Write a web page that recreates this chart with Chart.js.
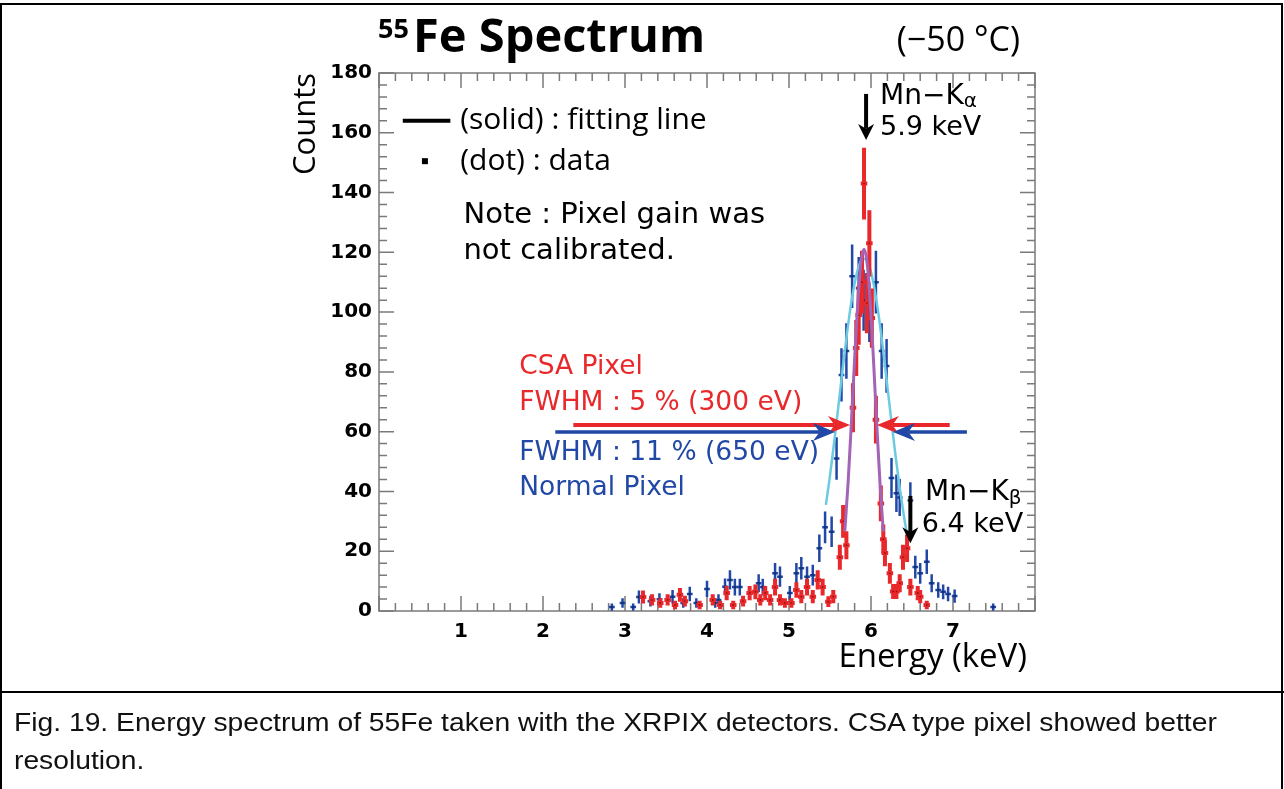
<!DOCTYPE html>
<html>
<head>
<meta charset="utf-8">
<script src="https://cdn.jsdelivr.net/npm/chart.js@4.4.0/dist/chart.umd.min.js"></script>
<style>
html, body { margin: 0; padding: 0; background: #fff; }
body { width: 1284px; height: 789px; overflow: hidden; position: relative; font-family: "Liberation Sans", Arial, sans-serif; }
#wrap { position: absolute; left: 0; top: 0; width: 1284px; height: 690px; }
#frame { position: absolute; left: 0; top: 3px; width: 1279px; height: 830px; border: 2px solid #000; }
#sep { position: absolute; left: 0; top: 691px; width: 1284px; height: 2px; background: #000; }
#caption { position: absolute; left: 14px; top: 703px; font-size: 25px; line-height: 38px; color: #111; white-space: nowrap; transform: scaleX(1.13); transform-origin: left top; }
</style>
</head>
<body>
<div id="wrap"><canvas id="chart"></canvas></div>
<div id="frame"></div>
<div id="sep"></div>
<div id="caption">Fig. 19. Energy spectrum of 55Fe taken with the XRPIX detectors. CSA type pixel showed better<br>resolution.</div>
<script>
// normal pixel (blue) data
const blueE = [2.84, 2.97, 3.10, 3.17, 3.31, 3.42, 3.58, 3.71, 3.79, 3.87, 4.00, 4.10, 4.14, 4.22, 4.28, 4.34, 4.40, 4.63, 4.68,
  4.83, 4.89, 5.01, 5.09, 5.15, 5.22, 5.29, 5.37, 5.44, 5.52, 5.58, 5.64, 5.70, 5.77, 5.85, 5.91, 5.98, 6.06, 6.13, 6.19,
  6.25, 6.31, 6.35, 6.48, 6.54, 6.60, 6.68, 6.74, 6.82, 6.88, 6.94, 7.02, 7.49];
const blueC = [1.3, 2.7, 1.3, 4.7, 3.3, 3.9, 4.8, 2.7, 5.7, 2.7, 7.4, 2.7, 3.7, 8.1, 10.4, 8, 8, 9.3, 8,
  12.6, 11.5, 6, 12.6, 14.3, 11.5, 12, 21, 28, 26.5, 51, 79, 87, 112, 108, 104, 100, 110, 87, 82,
  44.5, 39.4, 38, 37, 14.7, 12.6, 16.5, 9.3, 7, 6.4, 5.7, 5, 1.3];
const blueErr = [1.2, 1.6, 1.2, 2.2, 1.8, 2, 2.2, 1.6, 2.4, 1.6, 2.7, 1.6, 1.9, 2.8, 3.2, 2.8, 2.8, 3, 2.8,
  3.5, 3.4, 2.4, 3.5, 3.8, 3.4, 3.5, 4.6, 5.3, 5.1, 7.1, 8.9, 9.3, 10.6, 10.4, 10.2, 10, 10.5, 9.3, 9,
  6.7, 6.3, 6.2, 6.1, 3.8, 3.5, 4.1, 3, 2.6, 2.5, 2.4, 2.2, 1.2];

// CSA pixel (red) data
const redE = [3.22, 3.33, 3.43, 3.52, 3.61, 3.67, 3.73, 3.91, 4.07, 4.16, 4.24, 4.32, 4.44, 4.52, 4.59, 4.65, 4.71, 4.77,
  4.83, 4.89, 4.95, 5.03, 5.09, 5.15, 5.22, 5.29, 5.35, 5.41, 5.48, 5.54, 5.62, 5.66, 5.70, 5.78, 5.82, 5.85, 5.89,
  5.915, 5.95, 5.98, 6.01, 6.06, 6.12, 6.15, 6.17, 6.23, 6.27, 6.31, 6.35, 6.39, 6.44, 6.48, 6.57, 6.60, 6.68];
const redC = [4.7, 3.7, 2.7, 3.7, 2, 5.4, 3.3, 2, 3.7, 2, 6, 2, 3.3, 6, 6.4, 3.7, 6, 3.7,
  8, 3.7, 2.7, 2.7, 7, 4.8, 8, 4.8, 10.4, 8, 3.1, 4.8, 18, 30, 22, 68, 88, 99, 110,
  143, 103, 123, 98, 64, 36, 24, 19.4, 12.6, 6.5, 6.5, 9.3, 18, 21, 8, 6, 4.8, 2];
const redErr = [2.2, 1.9, 1.6, 1.9, 1.4, 2.3, 1.8, 1.4, 1.9, 1.4, 2.4, 1.4, 1.8, 2.4, 2.5, 1.9, 2.4, 1.9,
  2.8, 1.9, 1.6, 1.6, 2.6, 2.2, 2.8, 2.2, 3.2, 2.8, 1.8, 2.2, 4.2, 5.5, 4.7, 8.2, 9.4, 9.9, 10.5,
  12, 10.1, 11.1, 9.9, 8, 6, 4.9, 4.4, 3.5, 2.5, 2.5, 3, 4.2, 4.6, 2.8, 2.4, 2.2, 1.4];

// fitting lines
const cyanE = [5.45, 5.50, 5.55, 5.60, 5.65, 5.70, 5.75, 5.80, 5.85, 5.90, 5.95, 6.00, 6.05, 6.10, 6.15, 6.20, 6.25, 6.30, 6.35, 6.40, 6.44];
const cyanC = [35.5, 45.3, 56.3, 68.0, 79.9, 91.3, 101.5, 109.6, 115.3, 117.9, 117.2, 113.4, 106.6, 97.6, 86.8, 75.1, 63.2, 51.8, 41.3, 32.0, 25.5];
const purpleE = [5.68, 5.72, 5.76, 5.80, 5.84, 5.88, 5.915, 5.95, 5.99, 6.03, 6.07, 6.11, 6.15];
const purpleC = [26.6, 42.6, 62.6, 84.2, 103.7, 117.0, 121.0, 117.0, 103.7, 84.2, 62.6, 42.6, 26.6];

// axes
const xMin = 0, xMax = 8, xStep = 1, xMinor = 0.2;
const yMin = 0, yMax = 180, yStep = 20, yMinor = 4;
const xTickLabels = [1, 2, 3, 4, 5, 6, 7];

const RED = '#e8282a';
const BLUE = '#2148a6';

function pts(xs, ys) {
    return xs.map((x, i) => ({ x: x, y: ys[i] }));
}

// 误差棒（画在点的下面）
const errorBars = {
    id: 'errorBars',
    beforeDatasetDraw(chart, args) {
        const ds = chart.data.datasets[args.index];
        if (!ds.yErr) return;
        const xs = chart.scales.x, ys = chart.scales.y, ctx = chart.ctx;
        ctx.save();
        ctx.strokeStyle = ds.barColor;
        ctx.lineWidth = ds.barWidth;
        ds.data.forEach((p, i) => {
            const px = xs.getPixelForValue(p.x);
            const py = ys.getPixelForValue(p.y);
            ctx.beginPath();
            ctx.moveTo(px, ys.getPixelForValue(Math.max(0, p.y - ds.yErr[i])));
            ctx.lineTo(px, ys.getPixelForValue(p.y + ds.yErr[i]));
            ctx.moveTo(xs.getPixelForValue(p.x - ds.xErr), py);
            ctx.lineTo(xs.getPixelForValue(p.x + ds.xErr), py);
            ctx.stroke();
        });
        ctx.restore();
    }
};

// ROOT style frame with inward ticks
const frame = {
    id: 'frame',
    beforeDatasetsDraw(chart) {
        const { ctx, chartArea: a, scales: { x, y } } = chart;
        ctx.save();
        ctx.strokeStyle = '#7a7a7a';
        ctx.lineWidth = 1.5;
        ctx.strokeRect(a.left, a.top, a.right - a.left, a.bottom - a.top);
        ctx.beginPath();
        const nx = Math.round((xMax - xMin) / xMinor);
        for (let i = 0; i <= nx; i++) {
            const px = x.getPixelForValue(xMin + i * xMinor);
            const len = i % 5 === 0 ? 15 : 8;
            ctx.moveTo(px, a.bottom); ctx.lineTo(px, a.bottom - len);
            ctx.moveTo(px, a.top); ctx.lineTo(px, a.top + len);
        }
        const ny = Math.round((yMax - yMin) / yMinor);
        for (let i = 0; i <= ny; i++) {
            const py = y.getPixelForValue(yMin + i * yMinor);
            const len = i % 5 === 0 ? 15 : 8;
            ctx.moveTo(a.left, py); ctx.lineTo(a.left + len, py);
            ctx.moveTo(a.right, py); ctx.lineTo(a.right - len, py);
        }
        ctx.stroke();
        ctx.restore();
    }
};

function arrow(ctx, x1, y1, x2, y2, color, lw, head, half) {
    const ang = Math.atan2(y2 - y1, x2 - x1);
    const c = Math.cos(ang), s = Math.sin(ang);
    const bx = x2 - head * c, by = y2 - head * s;
    ctx.strokeStyle = color;
    ctx.lineWidth = lw;
    ctx.beginPath();
    ctx.moveTo(x1, y1);
    ctx.lineTo(bx + head * 0.3 * c, by + head * 0.3 * s);
    ctx.stroke();
    ctx.fillStyle = color;
    ctx.beginPath();
    ctx.moveTo(x2, y2);
    ctx.lineTo(bx + half * s, by - half * c);
    ctx.lineTo(bx + head * 0.3 * c, by + head * 0.3 * s);
    ctx.lineTo(bx - half * s, by + half * c);
    ctx.closePath();
    ctx.fill();
}

function text(ctx, s, x, y, font, color, align) {
    ctx.font = font;
    ctx.fillStyle = color;
    ctx.textAlign = align || 'left';
    ctx.textBaseline = 'middle';
    ctx.fillText(s, x, y);
}

// 注释文字、箭头、标题
const notes = {
    id: 'notes',
    afterDraw(chart) {
        const { ctx, chartArea: a, scales: { x, y } } = chart;
        const X = v => x.getPixelForValue(v);
        const Y = v => y.getPixelForValue(v);
        const ann = '"DejaVu Sans", sans-serif';
        const myr = '"Open Sans", sans-serif';
        ctx.save();

        // title
        text(ctx, '55', a.left - 1, 30, 'bold 27px ' + myr, '#000');
        text(ctx, 'Fe Spectrum', a.left + 34, 39, 'bold 47px ' + myr, '#000');
        text(ctx, '(\u221250 \u00b0C)', a.right - 15, 41, '34px ' + myr, '#000', 'right');

        // axis titles
        text(ctx, 'Energy (keV)', a.right - 8, a.bottom + 47, '33px ' + myr, '#000', 'right');
        ctx.save();
        ctx.translate(a.left - 73, a.top);
        ctx.rotate(-Math.PI / 2);
        text(ctx, 'Counts', 0, 0, '31px ' + myr, '#000', 'right');
        ctx.restore();

        // legend
        ctx.strokeStyle = '#000';
        ctx.lineWidth = 4;
        ctx.beginPath();
        ctx.moveTo(X(0.29), Y(164)); ctx.lineTo(X(0.87), Y(164));
        ctx.stroke();
        ctx.fillStyle = '#000';
        ctx.fillRect(X(0.56) - 3, Y(150.5) - 3, 6, 6);
        text(ctx, '(solid) : fitting line', X(0.99), Y(164), '30px ' + myr, '#000');
        text(ctx, '(dot) : data', X(0.99), Y(150.5), '30px ' + myr, '#000');
        text(ctx, 'Note : Pixel gain was', X(1.03), Y(132.2), '29px ' + ann, '#000');
        text(ctx, 'not calibrated.', X(1.03), Y(120.4), '29px ' + ann, '#000');

        // CSA / normal pixel labels
        text(ctx, 'CSA Pixel', X(1.71), Y(81.6), '26.5px ' + ann, RED);
        text(ctx, 'FWHM : 5 % (300 eV)', X(1.71), Y(69.6), '26.5px ' + ann, RED);
        text(ctx, 'FWHM : 11 % (650 eV)', X(1.71), Y(52.9), '26.5px ' + ann, BLUE);
        text(ctx, 'Normal Pixel', X(1.71), Y(41.2), '26.5px ' + ann, BLUE);

        // FWHM arrows
        arrow(ctx, X(2.37), Y(62.2), X(5.744), Y(62.2), RED, 4, 22, 9);
        arrow(ctx, X(6.96), Y(62.2), X(6.073), Y(62.2), RED, 4, 22, 9);
        arrow(ctx, X(2.15), Y(59.9), X(5.561), Y(59.9), BLUE, 3.5, 22, 9);
        arrow(ctx, X(7.17), Y(59.9), X(6.268), Y(59.9), BLUE, 3.5, 22, 9);

        // line markers
        arrow(ctx, X(5.94), Y(173), X(5.94), Y(157.6), '#000', 4, 16, 8);
        arrow(ctx, X(6.48), Y(38.5), X(6.48), Y(22.7), '#000', 4, 16, 8);
        text(ctx, 'Mn\u2212K', X(6.11), Y(172), '28px ' + ann, '#000');
        ctx.font = '28px ' + ann;
        let w = ctx.measureText('Mn\u2212K').width;
        text(ctx, '\u03b1', X(6.11) + w, Y(170.5), '20px ' + ann, '#000');
        text(ctx, '5.9 keV', X(6.11), Y(161.6), '27px ' + ann, '#000');
        text(ctx, 'Mn\u2212K', X(6.66), Y(39.5), '28px ' + ann, '#000');
        ctx.font = '28px ' + ann;
        w = ctx.measureText('Mn\u2212K').width;
        text(ctx, '\u03b2', X(6.66) + w, Y(37.5), '20px ' + ann, '#000');
        text(ctx, '6.4 keV', X(6.62), Y(28.8), '27px ' + ann, '#000');

        ctx.restore();
    }
};

new Chart(document.getElementById('chart'), {
    type: 'scatter',
    data: {
        datasets: [
            {
                label: 'Normal Pixel',
                data: pts(blueE, blueC),
                yErr: blueErr, xErr: 0.035, barColor: BLUE, barWidth: 2.5,
                pointStyle: 'rect', pointRadius: 1.6, backgroundColor: '#12306e', borderWidth: 0,
                order: 4
            },
            {
                label: 'Normal Pixel fit',
                data: pts(cyanE, cyanC),
                showLine: true, pointRadius: 0, borderColor: '#6ccbe0', borderWidth: 2.5,
                tension: 0.4, cubicInterpolationMode: 'monotone',
                order: 3
            },
            {
                label: 'CSA Pixel',
                data: pts(redE, redC),
                yErr: redErr, xErr: 0.04, barColor: RED, barWidth: 4,
                pointStyle: 'rect', pointRadius: 1, backgroundColor: '#7a1010', borderWidth: 0,
                order: 2
            },
            {
                label: 'CSA Pixel fit',
                data: pts(purpleE, purpleC),
                showLine: true, pointRadius: 0, borderColor: '#a364b6', borderWidth: 3,
                tension: 0.4, cubicInterpolationMode: 'monotone',
                order: 1
            }
        ]
    },
    options: {
        responsive: true,
        maintainAspectRatio: false,
        animation: false,
        layout: { padding: { left: 279, right: 249, top: 73, bottom: 39 } },
        plugins: { legend: { display: false }, tooltip: { enabled: false } },
        scales: {
            x: {
                type: 'linear', min: xMin, max: xMax,
                grid: { display: false, drawTicks: false },
                border: { display: false },
                ticks: {
                    stepSize: xStep, maxRotation: 0, autoSkip: false, padding: 9,
                    color: '#000', font: { family: 'DejaVu Sans', weight: 'bold', size: 20 },
                    callback: v => xTickLabels.includes(v) ? v : ''
                },
                afterFit: s => { s.height = 40; }
            },
            y: {
                type: 'linear', min: yMin, max: yMax,
                grid: { display: false, drawTicks: false },
                border: { display: false },
                ticks: {
                    stepSize: yStep, padding: 7,
                    color: '#000', font: { family: 'DejaVu Sans', weight: 'bold', size: 20 }
                },
                afterFit: s => { s.width = 100; }
            }
        }
    },
    plugins: [errorBars, frame, notes]
});
</script>
</body>
</html>
